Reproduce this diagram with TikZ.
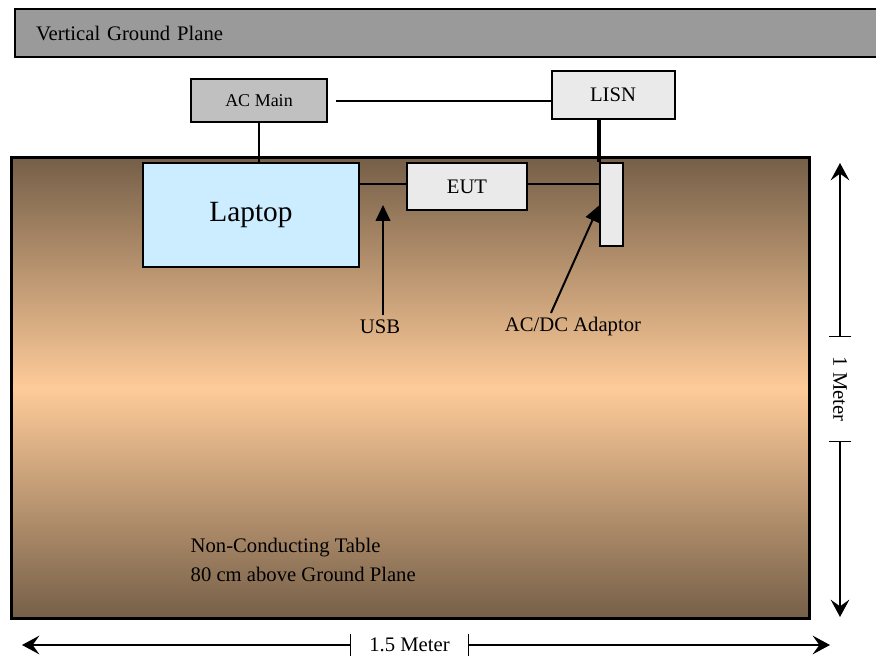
\documentclass[tikz,border=0pt]{standalone}
\usepackage{fontspec}
\setmainfont{Liberation Serif}
\usetikzlibrary{arrows.meta, positioning, calc}
\definecolor{planegray}{HTML}{9A9A9A}
\definecolor{maingray}{HTML}{C0C0C0}
\definecolor{boxgray}{HTML}{EAEAEA}
\definecolor{laptopblue}{HTML}{CCECFF}
\definecolor{tablebrown}{HTML}{755F48}
\definecolor{tablepeach}{HTML}{FECB99}
\newdimen\px
\px=0.75pt

\begin{document}
\begin{tikzpicture}[
    x=0.75pt, y=-0.75pt,
    font=\fontsize{15.5}{21.75}\selectfont,
    unit/.style={rectangle, draw=black, line width=1.5pt, inner sep=0pt, text centered},
    wire/.style={line width=1.1pt},
    ptr/.style={line width=1.5pt, -{Triangle[length=12pt, width=11pt]}},
    dim/.style={line width=1.1pt, -{Stealth[length=13pt, width=14pt, inset=5pt]}},
    tick/.style={line width=1.1pt}
]
    \useasboundingbox (0,0) rectangle (876,656);
    % ground plane and table
    \node[unit, fill=planegray, minimum width=866\px, minimum height=48\px,
          anchor=north west, text width=840\px, align=left] (plane) at (14,8)
          {\hspace*{8\px}Vertical Ground Plane};
    \node[rectangle, draw=black, line width=2.3pt, minimum width=798\px, minimum height=461\px,
          anchor=north west, top color=tablebrown, bottom color=tablebrown,
          middle color=tablepeach] (table) at (10,156) {};
    % units
    \node[unit, fill=maingray, minimum width=136\px, minimum height=43\px,
          font=\fontsize{13.5}{16}\selectfont] (acmain) at (259,101) {AC Main};
    \node[unit, fill=boxgray, minimum width=123\px, minimum height=48\px] (lisn) at (613,95) {LISN};
    \node[unit, fill=laptopblue, minimum width=216\px, minimum height=104\px,
          font=\fontsize{22}{26}\selectfont] (laptop) at (251,215) {\raisebox{4\px}{Laptop}};
    \node[unit, fill=boxgray, minimum width=120\px, minimum height=47\px] (eut) at (467,187) {EUT};
    \node[unit, fill=boxgray, minimum width=23\px, minimum height=83\px] (adaptor) at (611.5,204.5) {};
    % labels
    \node (usb) at (380,327) {USB};
    \node (acdc) at (573,327) {AC/DC Adaptor};
    \node[anchor=north west, align=left] (tabletext) at (186,533)
          {Non-Conducting Table\\80 cm above Ground Plane};
    \coordinate (usbtip) at (383,205);
    % connections
    \draw[wire] ([xshift=6pt]acmain.east) -- (acmain.east -| lisn.west);
    \draw[wire] (acmain.south) -- (acmain.south |- laptop.north);
    \draw[line width=2.3pt] (adaptor.north west |- lisn.south) -- (adaptor.north west);
    \draw[wire] (laptop.east |- 0,184) -- (eut.west |- 0,184);
    \draw[wire] (eut.east |- 0,184) -- (adaptor.west |- 0,184);
    \draw[ptr] (usbtip |- usb.north) -- (usbtip);
    \draw[ptr] ($(acdc.north)+(-22,0)$) -- ([yshift=-0.75pt]adaptor.west);
    % dimensions
    \node[rotate=-90, minimum width=104\px, minimum height=22\px, inner sep=0pt] (vdim) at (840,389) {1 Meter};
    \coordinate (vtop) at (840,163);
    \coordinate (vbot) at (840,617);
    \draw[tick] (vdim.north west) -- (vdim.south west);
    \draw[tick] (vdim.north east) -- (vdim.south east);
    \draw[dim] (vdim.west) -- (vtop);
    \draw[dim] (vdim.east) -- (vbot);
    \node[minimum width=117\px, minimum height=22\px, inner sep=0pt] (hdim) at (409.5,645) {1.5 Meter};
    \coordinate (hleft) at (22,645);
    \coordinate (hright) at (830,645);
    \draw[tick] (hdim.north west) -- (hdim.south west);
    \draw[tick] (hdim.north east) -- (hdim.south east);
    \draw[dim] (hdim.west) -- (hleft);
    \draw[dim] (hdim.east) -- (hright);
\end{tikzpicture}
\end{document}
